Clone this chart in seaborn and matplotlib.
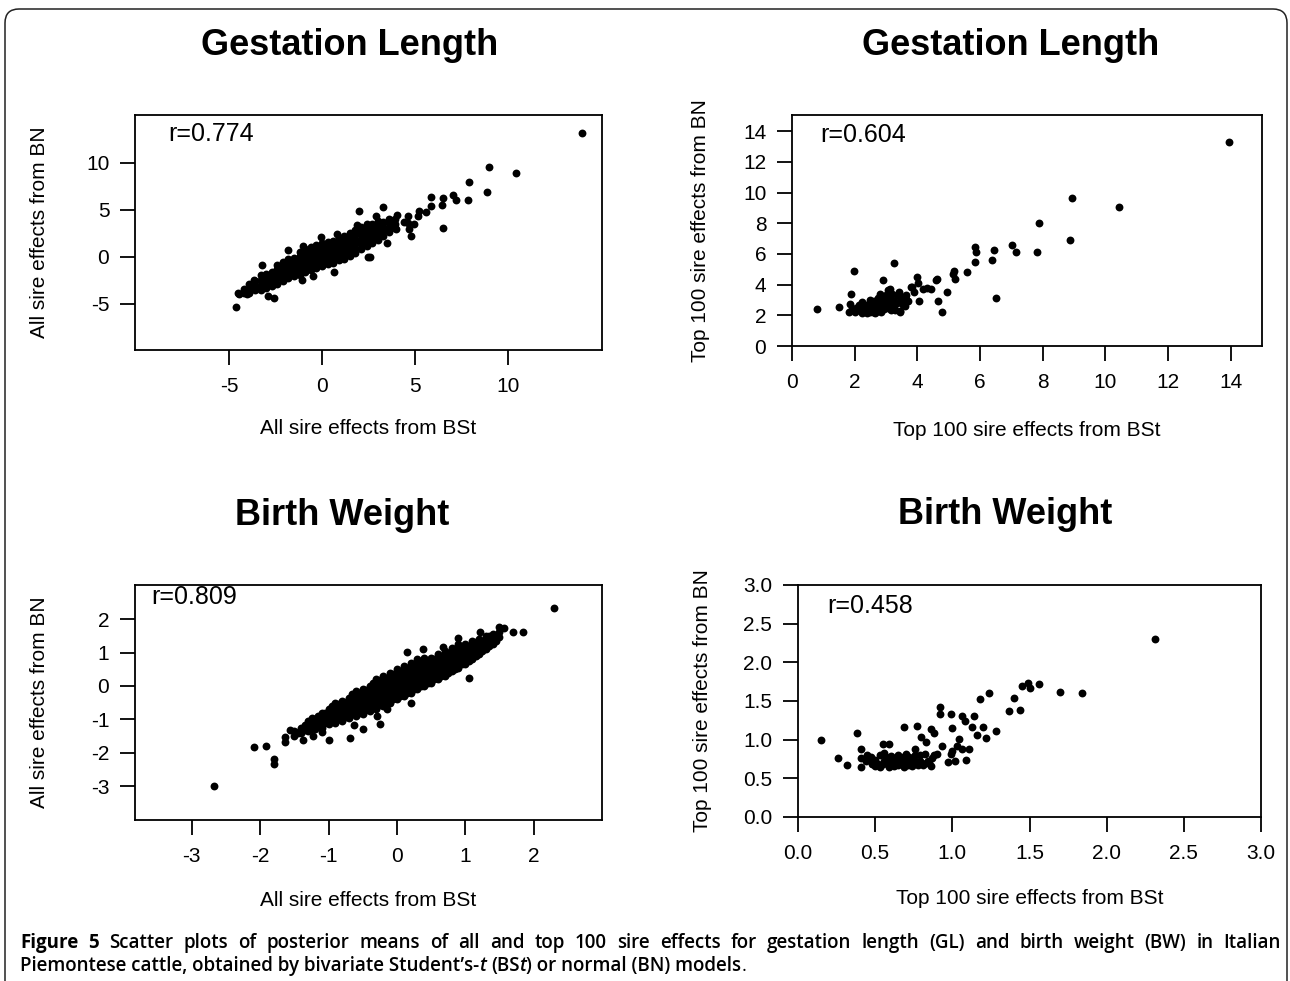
import matplotlib
matplotlib.use("Agg")
import numpy as np
import pandas as pd
import seaborn as sns
import matplotlib.pyplot as plt
from matplotlib.patches import FancyBboxPatch
from matplotlib.transforms import IdentityTransform

# ---------------- data ----------------
# Gestation length, all sires: (BSt, BN)
gl_all = [
    # dense core of the cloud
    (-4.5, -3.9),
    (-4.2, -3.9), (-4.2, -3.4),
    (-3.9, -3.9), (-3.9, -3.4), (-3.9, -2.9),
    (-3.6, -3.6), (-3.6, -3.1), (-3.6, -2.6),
    (-3.3, -3.6), (-3.3, -3.0), (-3.3, -2.5), (-3.3, -2.0),
    (-3.0, -3.3), (-3.0, -2.8), (-3.0, -2.3), (-3.0, -1.8),
    (-2.7, -3.1), (-2.7, -2.6), (-2.7, -2.1), (-2.7, -1.6),
    (-2.4, -2.9), (-2.4, -2.3), (-2.4, -1.8), (-2.4, -1.3), (-2.4, -0.9),
    (-2.1, -2.6), (-2.1, -2.1), (-2.1, -1.6), (-2.1, -1.1), (-2.1, -0.6),
    (-1.8, -2.3), (-1.8, -1.8), (-1.8, -1.3), (-1.8, -0.8), (-1.8, -0.3),
    (-1.5, -2.1), (-1.5, -1.6), (-1.5, -1.1), (-1.5, -0.6), (-1.5, -0.1),
    (-1.2, -1.9), (-1.2, -1.4), (-1.2, -0.9), (-1.2, -0.4), (-1.2, 0.1), (-1.2, 0.5),
    (-0.9, -1.6), (-0.9, -1.1), (-0.9, -0.6), (-0.9, -0.1), (-0.9, 0.4), (-0.9, 0.8),
    (-0.6, -1.4), (-0.6, -0.9), (-0.6, -0.4), (-0.6, 0.1), (-0.6, 0.6), (-0.6, 1.0),
    (-0.3, -1.2), (-0.3, -0.7), (-0.3, -0.2), (-0.3, 0.3), (-0.3, 0.8), (-0.3, 1.2),
    (0.0, -1.0), (0.0, -0.5), (0.0, 0.0), (0.0, 0.5), (0.0, 1.0), (0.0, 1.4),
    (0.3, -0.8), (0.3, -0.3), (0.3, 0.2), (0.3, 0.7), (0.3, 1.2), (0.3, 1.6),
    (0.6, -0.7), (0.6, -0.2), (0.6, 0.3), (0.6, 0.8), (0.6, 1.3), (0.6, 1.7),
    (0.9, -0.4), (0.9, 0.1), (0.9, 0.6), (0.9, 1.1), (0.9, 1.6), (0.9, 2.0),
    (1.2, -0.2), (1.2, 0.3), (1.2, 0.8), (1.2, 1.3), (1.2, 1.8), (1.2, 2.2),
    (1.5, 0.1), (1.5, 0.6), (1.5, 1.1), (1.5, 1.6), (1.5, 2.1), (1.5, 2.5),
    (1.8, 0.4), (1.8, 0.9), (1.8, 1.4), (1.8, 1.9), (1.8, 2.4), (1.8, 2.8),
    (2.1, 0.8), (2.1, 1.3), (2.1, 1.8), (2.1, 2.3), (2.1, 2.8), (2.1, 3.2),
    (2.4, 1.1), (2.4, 1.6), (2.4, 2.1), (2.4, 2.6), (2.4, 3.1), (2.4, 3.5),
    (2.7, 1.5), (2.7, 2.0), (2.7, 2.5), (2.7, 3.0), (2.7, 3.5),
    (3.0, 1.8), (3.0, 2.3), (3.0, 2.8), (3.0, 3.3), (3.0, 3.8),
    (3.3, 2.2), (3.3, 2.7), (3.3, 3.2), (3.3, 3.7),
    (3.6, 2.6), (3.6, 3.1), (3.6, 3.6), (3.6, 4.0),
    (3.9, 3.0), (3.9, 3.5), (3.9, 4.0),
    # scattered sires
    (13.98, 13.16), (8.96, 9.54), (10.45, 8.95), (7.89, 7.89), (7.85, 6.07),
    (8.89, 6.84), (7.03, 6.56), (7.20, 6.07), (6.49, 6.21), (6.45, 5.54),
    (5.84, 6.32), (5.84, 5.44), (6.50, 3.09), (5.59, 4.77), (5.20, 4.84),
    (5.14, 4.28), (4.95, 3.51), (4.80, 2.21), (4.66, 2.95), (4.62, 4.32),
    (4.64, 3.60), (4.39, 3.68), (4.03, 4.39), (4.00, 2.91), (3.85, 3.93),
    (3.26, 5.33), (2.92, 4.28), (1.99, 4.84), (3.49, 1.47), (2.60, -0.07),
    (2.46, 0.00), (1.88, 3.33), (0.81, 2.46), (-0.05, 2.04), (0.66, -1.58),
    (-0.48, -2.10), (-1.06, -2.46), (-1.04, 1.12), (-1.85, 0.70), (-3.23, -0.88),
    (-2.56, -4.39), (-2.92, -4.21), (-4.03, -3.93), (-3.67, -2.46), (-4.60, -5.40),
    (-4.48, -3.93),
]
gl_all_bst = [p[0] for p in gl_all]
gl_all_bn = [p[1] for p in gl_all]

# Gestation length, top 100 sires
gl_top = [
    (13.94, 13.30), (8.94, 9.66), (10.43, 9.05), (7.87, 7.99), (8.87, 6.92),
    (7.83, 6.14), (7.02, 6.60), (7.16, 6.14), (6.44, 6.25), (6.37, 5.60),
    (6.50, 3.10), (5.83, 6.45), (5.88, 6.14), (5.85, 5.47), (5.57, 4.84),
    (5.16, 4.88), (5.21, 4.34), (5.14, 4.71), (4.95, 3.52), (4.63, 4.34),
    (4.65, 2.91), (4.80, 2.21), (4.45, 3.71), (4.19, 3.71), (3.99, 4.49),
    (4.02, 4.08), (3.82, 3.86), (4.04, 2.91), (3.24, 5.38), (2.91, 4.30),
    (1.99, 4.88), (1.89, 3.41), (0.81, 2.43), (1.50, 2.54), (1.86, 2.76),
    (1.81, 2.21), (2.23, 2.87), (3.64, 3.08), (3.46, 2.28), (3.60, 2.60),
    (3.12, 3.69), (2.82, 3.36), (2.61, 2.93), (3.07, 3.65), (2.81, 2.67),
    (2.97, 3.00), (3.13, 3.11), (3.34, 3.33), (3.44, 2.24), (3.55, 2.67),
    (2.38, 2.56), (2.70, 2.45), (2.90, 2.56), (3.07, 2.78), (3.80, 3.83),
    (2.00, 2.24), (2.22, 2.13), (2.49, 2.24), (2.65, 2.13), (2.59, 2.78),
    (2.10, 2.35), (2.30, 2.30), (2.45, 2.50), (2.55, 2.35), (2.75, 2.30),
    (2.85, 2.20), (2.95, 2.40), (3.05, 2.50), (3.15, 2.35), (3.25, 2.60),
    (3.35, 2.80), (3.45, 2.95), (3.25, 2.90), (3.15, 3.00), (2.95, 2.80),
    (2.85, 2.95), (2.75, 3.10), (2.65, 2.60), (2.50, 2.70), (2.35, 2.70),
    (2.20, 2.50), (2.05, 2.45), (1.90, 2.40), (3.50, 3.20), (3.70, 2.90),
    (3.40, 3.50), (3.00, 3.30), (2.75, 2.80), (3.30, 2.35), (2.60, 2.20),
    (2.40, 2.15), (3.20, 3.40), (3.55, 3.00), (2.85, 3.25), (2.15, 2.70),
    (4.30, 3.75), (3.90, 3.50), (2.50, 3.00), (3.65, 3.30), (4.59, 4.30),
]
gl_top_bst = [p[0] for p in gl_top]
gl_top_bn = [p[1] for p in gl_top]

# Birth weight, all sires
bw_all = [
    # dense core
    (-1.5, -1.5), (-1.5, -1.35),
    (-1.4, -1.4), (-1.4, -1.25),
    (-1.3, -1.35), (-1.3, -1.2), (-1.3, -1.05),
    (-1.2, -1.3), (-1.2, -1.15), (-1.2, -1.0),
    (-1.1, -1.25), (-1.1, -1.1), (-1.1, -0.95), (-1.1, -0.8),
    (-1.0, -1.15), (-1.0, -1.0), (-1.0, -0.85), (-1.0, -0.7),
    (-0.9, -1.1), (-0.9, -0.95), (-0.9, -0.8), (-0.9, -0.65), (-0.9, -0.5),
    (-0.8, -1.05), (-0.8, -0.9), (-0.8, -0.75), (-0.8, -0.6), (-0.8, -0.45),
    (-0.7, -0.95), (-0.7, -0.8), (-0.7, -0.65), (-0.7, -0.5), (-0.7, -0.35),
    (-0.6, -0.9), (-0.6, -0.75), (-0.6, -0.6), (-0.6, -0.45), (-0.6, -0.3), (-0.6, -0.15),
    (-0.5, -0.85), (-0.5, -0.7), (-0.5, -0.55), (-0.5, -0.4), (-0.5, -0.25), (-0.5, -0.1),
    (-0.4, -0.75), (-0.4, -0.6), (-0.4, -0.45), (-0.4, -0.3), (-0.4, -0.15), (-0.4, 0.0),
    (-0.3, -0.7), (-0.3, -0.55), (-0.3, -0.4), (-0.3, -0.25), (-0.3, -0.1), (-0.3, 0.05), (-0.3, 0.2),
    (-0.2, -0.6), (-0.2, -0.45), (-0.2, -0.3), (-0.2, -0.15), (-0.2, 0.0), (-0.2, 0.15), (-0.2, 0.3),
    (-0.1, -0.5), (-0.1, -0.35), (-0.1, -0.2), (-0.1, -0.05), (-0.1, 0.1), (-0.1, 0.25), (-0.1, 0.4),
    (0.0, -0.4), (0.0, -0.25), (0.0, -0.1), (0.0, 0.05), (0.0, 0.2), (0.0, 0.35), (0.0, 0.5),
    (0.1, -0.3), (0.1, -0.15), (0.1, 0.0), (0.1, 0.15), (0.1, 0.3), (0.1, 0.45), (0.1, 0.6),
    (0.2, -0.2), (0.2, -0.05), (0.2, 0.1), (0.2, 0.25), (0.2, 0.4), (0.2, 0.55), (0.2, 0.7),
    (0.3, -0.1), (0.3, 0.05), (0.3, 0.2), (0.3, 0.35), (0.3, 0.5), (0.3, 0.65), (0.3, 0.8),
    (0.4, 0.0), (0.4, 0.15), (0.4, 0.3), (0.4, 0.45), (0.4, 0.6), (0.4, 0.75), (0.4, 0.85),
    (0.5, 0.1), (0.5, 0.25), (0.5, 0.4), (0.5, 0.55), (0.5, 0.7), (0.5, 0.85),
    (0.6, 0.2), (0.6, 0.35), (0.6, 0.5), (0.6, 0.65), (0.6, 0.8), (0.6, 0.95),
    (0.7, 0.3), (0.7, 0.45), (0.7, 0.6), (0.7, 0.75), (0.7, 0.9), (0.7, 1.05),
    (0.8, 0.45), (0.8, 0.6), (0.8, 0.75), (0.8, 0.9), (0.8, 1.05), (0.8, 1.15),
    (0.9, 0.55), (0.9, 0.7), (0.9, 0.85), (0.9, 1.0), (0.9, 1.15), (0.9, 1.25),
    (1.0, 0.65), (1.0, 0.8), (1.0, 0.95), (1.0, 1.1), (1.0, 1.25),
    (1.1, 0.8), (1.1, 0.95), (1.1, 1.1), (1.1, 1.25), (1.1, 1.35),
    (1.2, 0.95), (1.2, 1.1), (1.2, 1.25), (1.2, 1.4),
    (1.3, 1.1), (1.3, 1.25), (1.3, 1.4), (1.3, 1.5),
    (1.4, 1.25), (1.4, 1.4), (1.4, 1.55),
    (1.5, 1.45), (1.5, 1.6),
    # interleaved core sires
    (-1.45, -1.42),
    (-1.35, -1.32), (-1.35, -1.18),
    (-1.25, -1.28), (-1.25, -1.12),
    (-1.15, -1.2), (-1.15, -1.05), (-1.15, -0.9),
    (-1.05, -1.12), (-1.05, -0.97), (-1.05, -0.82),
    (-0.95, -1.05), (-0.95, -0.9), (-0.95, -0.75), (-0.95, -0.6),
    (-0.85, -1.0), (-0.85, -0.85), (-0.85, -0.7), (-0.85, -0.55),
    (-0.75, -0.92), (-0.75, -0.77), (-0.75, -0.62), (-0.75, -0.47),
    (-0.65, -0.85), (-0.65, -0.7), (-0.65, -0.55), (-0.65, -0.4), (-0.65, -0.25),
    (-0.55, -0.8), (-0.55, -0.65), (-0.55, -0.5), (-0.55, -0.35), (-0.55, -0.2),
    (-0.45, -0.72), (-0.45, -0.57), (-0.45, -0.42), (-0.45, -0.27), (-0.45, -0.12),
    (-0.35, -0.65), (-0.35, -0.5), (-0.35, -0.35), (-0.35, -0.2), (-0.35, -0.05), (-0.35, 0.1),
    (-0.25, -0.57), (-0.25, -0.42), (-0.25, -0.27), (-0.25, -0.12), (-0.25, 0.03), (-0.25, 0.18),
    (-0.15, -0.5), (-0.15, -0.35), (-0.15, -0.2), (-0.15, -0.05), (-0.15, 0.1), (-0.15, 0.25),
    (-0.05, -0.4), (-0.05, -0.25), (-0.05, -0.1), (-0.05, 0.05), (-0.05, 0.2), (-0.05, 0.35),
    (0.05, -0.3), (0.05, -0.15), (0.05, 0.0), (0.05, 0.15), (0.05, 0.3), (0.05, 0.45),
    (0.15, -0.2), (0.15, -0.05), (0.15, 0.1), (0.15, 0.25), (0.15, 0.4), (0.15, 0.55),
    (0.25, -0.1), (0.25, 0.05), (0.25, 0.2), (0.25, 0.35), (0.25, 0.5), (0.25, 0.65),
    (0.35, 0.0), (0.35, 0.15), (0.35, 0.3), (0.35, 0.45), (0.35, 0.6), (0.35, 0.75),
    (0.45, 0.1), (0.45, 0.25), (0.45, 0.4), (0.45, 0.55), (0.45, 0.7),
    (0.55, 0.2), (0.55, 0.35), (0.55, 0.5), (0.55, 0.65), (0.55, 0.8),
    (0.65, 0.3), (0.65, 0.45), (0.65, 0.6), (0.65, 0.75), (0.65, 0.9),
    (0.75, 0.4), (0.75, 0.55), (0.75, 0.7), (0.75, 0.85), (0.75, 1.0),
    (0.85, 0.5), (0.85, 0.65), (0.85, 0.8), (0.85, 0.95), (0.85, 1.1),
    (0.95, 0.65), (0.95, 0.8), (0.95, 0.95), (0.95, 1.1),
    (1.05, 0.75), (1.05, 0.9), (1.05, 1.05), (1.05, 1.2),
    (1.15, 0.9), (1.15, 1.05), (1.15, 1.2), (1.15, 1.3),
    (1.25, 1.05), (1.25, 1.2), (1.25, 1.35),
    (1.35, 1.2), (1.35, 1.35), (1.35, 1.48),
    (1.45, 1.35), (1.45, 1.5),
    # scattered sires
    (2.30, 2.33), (-2.67, -3.00), (-2.09, -1.82), (-1.91, -1.80), (-1.80, -2.18),
    (-1.80, -2.32), (-1.64, -1.52), (-1.64, -1.67), (-1.56, -1.32), (-1.38, -1.62),
    (-1.41, -1.35), (-1.22, -1.50), (-1.00, -1.62), (-0.68, -1.57), (-0.50, -1.30),
    (-0.24, -1.14), (-0.29, -0.90), (-0.15, -0.70), (0.20, -0.50), (0.15, 1.01),
    (0.38, 1.10), (1.05, 0.23), (1.70, 1.62), (1.84, 1.61), (1.49, 1.75),
    (1.56, 1.73), (1.43, 1.48), (1.22, 1.60), (0.90, 1.43), (0.68, 1.18),
    (-1.24, -0.97), (-1.10, -1.37), (-0.63, -1.17),
]
bw_all_bst = [p[0] for p in bw_all]
bw_all_bn = [p[1] for p in bw_all]

# Birth weight, top 100 sires
bw_top = [
    (2.31, 2.30), (1.84, 1.60), (1.70, 1.62), (1.56, 1.72), (1.50, 1.67),
    (1.49, 1.73), (1.45, 1.69), (1.40, 1.54), (1.44, 1.39), (1.37, 1.37),
    (1.24, 1.60), (1.18, 1.53), (1.14, 1.31), (1.06, 1.30), (1.08, 1.24),
    (1.13, 1.17), (1.20, 1.17), (1.16, 1.06), (1.22, 1.02), (1.28, 1.11),
    (0.99, 1.33), (0.92, 1.42), (0.92, 1.33), (1.00, 1.15), (0.86, 1.14),
    (0.88, 1.08), (0.77, 1.18), (0.69, 1.16), (0.80, 1.04), (0.83, 0.97),
    (0.93, 0.92), (1.04, 1.01), (1.03, 0.92), (1.06, 0.88), (1.11, 0.88),
    (1.00, 0.85), (0.99, 0.81), (1.09, 0.74), (1.02, 0.73), (0.97, 0.71),
    (0.15, 1.00), (0.26, 0.76), (0.32, 0.67), (0.38, 1.09), (0.41, 0.88),
    (0.41, 0.76), (0.41, 0.65), (0.76, 0.88), (0.55, 0.94), (0.59, 0.94),
    (0.56, 0.83), (0.44, 0.72), (0.47, 0.78), (0.50, 0.74), (0.53, 0.80),
    (0.53, 0.65), (0.56, 0.72), (0.59, 0.65), (0.62, 0.76), (0.65, 0.80),
    (0.65, 0.67), (0.69, 0.65), (0.71, 0.74), (0.70, 0.82), (0.75, 0.74),
    (0.78, 0.67), (0.79, 0.80), (0.81, 0.67), (0.82, 0.82), (0.87, 0.76),
    (0.90, 0.82), (0.85, 0.70), (0.73, 0.69), (0.67, 0.71), (0.61, 0.70),
    (0.57, 0.77), (0.48, 0.68), (0.52, 0.69), (0.63, 0.73), (0.77, 0.71),
    (0.84, 0.73), (0.72, 0.78), (0.46, 0.75), (0.60, 0.79), (0.68, 0.78),
    (0.79, 0.73), (0.64, 0.68), (0.88, 0.80), (0.74, 0.66), (0.58, 0.73),
    (0.50, 0.66), (0.86, 0.66), (0.70, 0.70), (0.66, 0.74), (0.55, 0.68),
    (0.76, 0.80), (0.62, 0.66), (0.45, 0.80), (0.83, 0.70), (0.71, 0.67),
]
bw_top_bst = [p[0] for p in bw_top]
bw_top_bn = [p[1] for p in bw_top]

titles = ["Gestation Length", "Gestation Length", "Birth Weight", "Birth Weight"]
xlabels = ["All sire effects from BSt", "Top 100 sire effects from BSt",
           "All sire effects from BSt", "Top 100 sire effects from BSt"]
ylabels = ["All sire effects from BN", "Top 100 sire effects from BN",
           "All sire effects from BN", "Top 100 sire effects from BN"]
r_labels = ["r=0.774", "r=0.604", "r=0.809", "r=0.458"]
ticks = [[-5, 0, 5, 10], list(range(0, 15, 2)), [-3, -2, -1, 0, 1, 2],
         [0.0, 0.5, 1.0, 1.5, 2.0, 2.5, 3.0]]
tick_labels = [["-5", "0", "5", "10"], [str(v) for v in range(0, 15, 2)],
               ["-3", "-2", "-1", "0", "1", "2"],
               ["0.0", "0.5", "1.0", "1.5", "2.0", "2.5", "3.0"]]

caption_lead = "Figure 5"
caption_line1 = ("Scatter plots of posterior means of all and top 100 sire effects for "
                 "gestation length (GL) and birth weight (BW) in Italian")

# ---------------- styling / layout ----------------
sns.set_theme(style="white")
plt.rcParams['font.family'] = ['Liberation Sans', 'DejaVu Sans']
plt.rcParams['axes.edgecolor'] = 'black'
plt.rcParams['axes.linewidth'] = 1.3

W, H = 1290, 981
fig = plt.figure(figsize=(W / 100, H / 100), dpi=100)
fig.patch.set_facecolor('white')

# panel boxes in pixels (left, top, right, bottom)
boxes = [(135, 115, 602, 350), (792, 115, 1262, 346),
         (135, 585, 602, 820), (798, 585, 1261, 817)]
xlims = [(-10.05, 15.05), (0, 15.0), (-3.83, 3.0), (0, 3.0)]
ylims = [(-9.93, 15.07), (0, 15.05), (-4.01, 3.02), (0, 3.0)]
title_pos = [(350, 45), (1011, 45), (342, 515), (1005, 515)]
ylabel_x = [40, 700, 40, 702]
xlabel_y = [428, 430, 900, 898]
r_pos = [(168, 134), (820, 135), (151, 597), (827, 606)]

datasets = [(gl_all_bst, gl_all_bn), (gl_top_bst, gl_top_bn),
            (bw_all_bst, bw_all_bn), (bw_top_bst, bw_top_bn)]

for i in range(4):
    l, t, r, b = boxes[i]
    w, h = r - l, b - t
    ax = fig.add_axes([l / W, 1 - b / H, w / W, h / H])
    xs, ys = datasets[i]
    df = pd.DataFrame({"BSt": xs, "BN": ys})
    sns.scatterplot(data=df, x="BSt", y="BN", ax=ax, color="black", s=32,
                    linewidth=0, legend=False, zorder=3)
    ax.set_xlim(*xlims[i])
    ax.set_ylim(*ylims[i])
    ax.set_xticks(ticks[i])
    ax.set_xticklabels(tick_labels[i])
    ax.set_yticks(ticks[i])
    ax.set_yticklabels(tick_labels[i])
    ax.tick_params(axis='both', which='both', direction='out', length=10.5, width=1.3,
                   color='black', labelsize=15, bottom=True, left=True,
                   labelcolor='black')
    ax.tick_params(axis='x', pad=9)
    ax.tick_params(axis='y', pad=8)
    for sp in ax.spines.values():
        sp.set_visible(True)
        sp.set_color('black')
        sp.set_linewidth(1.3)
    ax.grid(False)
    ax.set_xlabel(xlabels[i], fontsize=15, color='black')
    ax.set_ylabel(ylabels[i], fontsize=15, color='black')
    ax.xaxis.label.set_verticalalignment('center')
    ax.xaxis.set_label_coords(0.5, -(xlabel_y[i] - b) / h)
    ax.yaxis.label.set_verticalalignment('center')
    ax.yaxis.set_label_coords((ylabel_x[i] - l) / w, 0.5)
    tx, ty = title_pos[i]
    ax.set_title(titles[i], fontsize=26, fontweight='bold', color='black',
                 x=(tx - l) / w, y=(b - ty) / h, va='center', pad=0)
    rx, ry = r_pos[i]
    ax.text((rx - l) / w, (b - ry) / h, r_labels[i], transform=ax.transAxes,
            fontsize=18, ha='left', va='center', color='black')

# figure frame with rounded corners
frame = FancyBboxPatch((5, -30), 1282, H - 9 + 30,
                       boxstyle="round,pad=0,rounding_size=14",
                       transform=IdentityTransform(), fill=False,
                       edgecolor='#222222', linewidth=1.1)
fig.add_artist(frame)

# ---------------- caption ----------------
renderer = fig.canvas.get_renderer()
cap_family = ['Open Sans', 'Liberation Sans', 'DejaVu Sans']


def measure(s, **kw):
    tt = fig.text(0, 0, s, transform=IdentityTransform(), **kw)
    wd = tt.get_window_extent(renderer).width
    tt.remove()
    return wd


def styles(fs):
    return (dict(family=cap_family, weight='semibold', fontsize=fs),
            dict(family=cap_family, weight='bold', fontsize=fs),
            dict(family=cap_family, weight='semibold', style='italic', fontsize=fs),
            dict(family=cap_family, weight='normal', fontsize=fs))


line2_text = "Piemontese cattle, obtained by bivariate Student’s-t (BSt) or normal (BN) models."
fs0 = 12.0
w0 = measure(line2_text, **styles(fs0)[0])
cap_fs = fs0 * 730.0 / w0
kw_b, kw_bb, kw_bi, kw_n = styles(cap_fs)

space_w = measure("a a", **kw_b) - measure("aa", **kw_b)

# line 1: justified between x=20 and x=1281
y1 = H - 948
words = [(w_, kw_bb) for w_ in caption_lead.split()] + \
        [(w_, kw_b) for w_ in caption_line1.split()]
widths = [measure(w_, **k) for w_, k in words]
gap = (1281 - 20 - sum(widths)) / (len(words) - 1)
x = 20
for (w_, k), wd in zip(words, widths):
    fig.text(x, y1, w_, transform=IdentityTransform(), va='baseline',
             color='black', **k)
    x += wd + gap

# line 2: natural spacing with italic t's
y2 = H - 971
pieces = [("Piemontese cattle, obtained by bivariate Student’s-", kw_b, False),
          ("t", kw_bi, False), ("(BS", kw_b, True), ("t", kw_bi, False),
          (") or normal (BN) models", kw_b, False), (".", kw_n, False)]
x = 20
for s_, k, sp in pieces:
    if sp:
        x += space_w
    fig.text(x, y2, s_, transform=IdentityTransform(), va='baseline',
             color='black', **k)
    x += measure(s_, **k)

fig.savefig("out.png", dpi=100, facecolor='white')
